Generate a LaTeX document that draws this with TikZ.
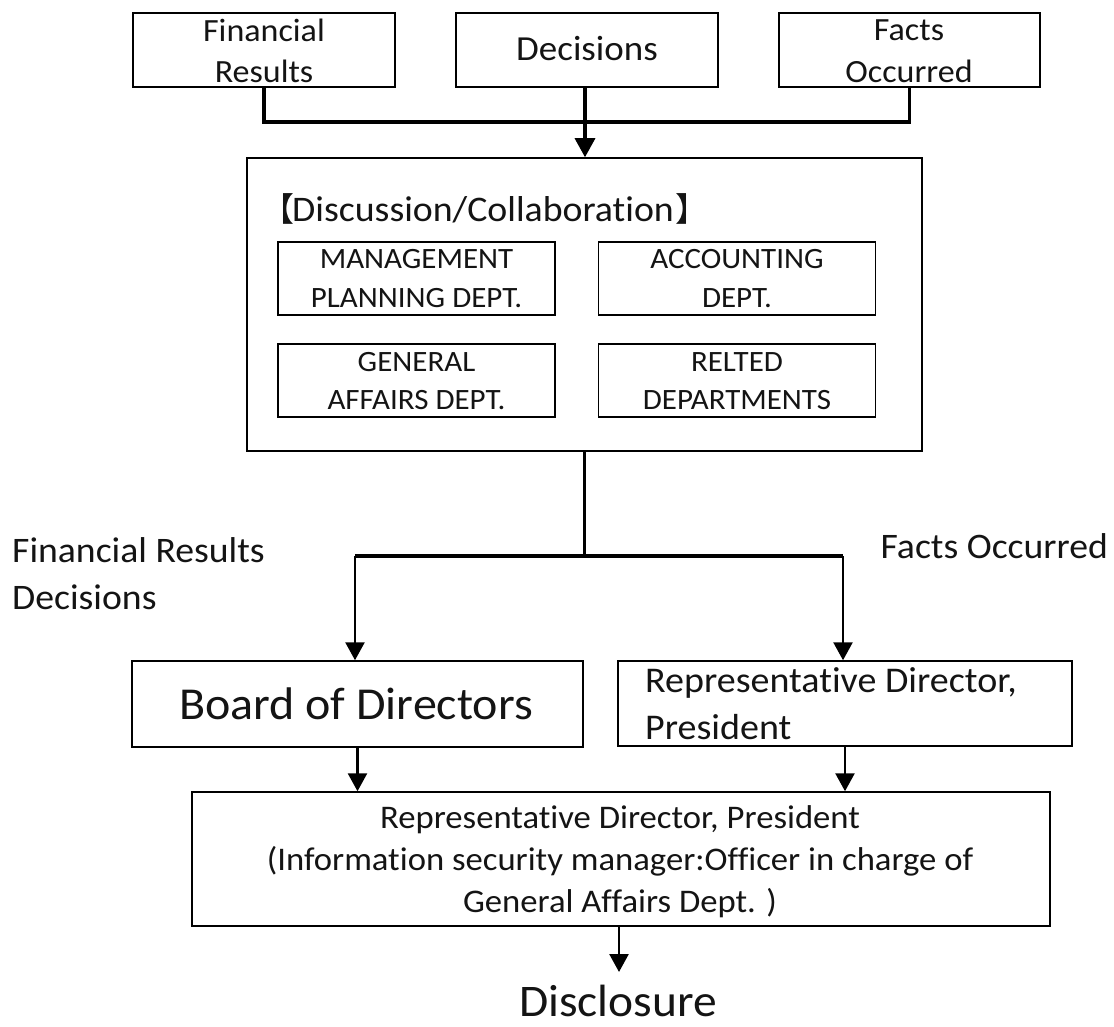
\documentclass[tikz,border=0pt]{standalone}
\usepackage{fontspec}
\setmainfont{Carlito}[FakeStretch=1.05, Ligatures=NoCommon]
\newfontfamily\cjk{Noto Sans CJK SC}
\usetikzlibrary{arrows.meta}
\begin{document}
\begin{tikzpicture}[x=1pt,y=-1pt,
  box/.style={draw=black, line width=1.5pt, inner sep=0pt},
  t/.style={anchor=base, inner sep=0pt, text=black!92, font=\fontsize{#1}{#1}\selectfont},
  tw/.style={t=#1, anchor=base west},
  te/.style={t=#1, anchor=base east},
  feed/.style={line width=3.5pt},
  stem/.style={line width=2.2pt},
  bar/.style={line width=3.4pt},
  arr/.style={line width=2.6pt, -{Triangle[width=19pt,length=18pt]}},
  arrthick/.style={line width=3.2pt, -{Triangle[width=20pt,length=19pt]}}]
\useasboundingbox (0,0) rectangle (1114,1027);
\fill[white] (0,0) rectangle (1114,1027);

% top boxes
\node[box, minimum width=262pt, minimum height=74pt] (fin) at (264,50) {};
\node[box, minimum width=262pt, minimum height=74pt] (dec) at (587,50) {};
\node[box, minimum width=261pt, minimum height=74pt] (fac) at (909.5,50) {};
\node[t=32.4] (finA) at (264,42) {Financial};
\node[t=32.4] (finB) at (264,83) {Results};
\node[t=35.2] (decA) at (587,61) {Decisions};
\node[t=32.4] (facA) at (909,41) {Facts};
\node[t=32.4] (facB) at (909,83) {Occurred};

% main box
\node[box, minimum width=675pt, minimum height=293pt] (main) at (584.5,304.5) {};
\node[tw=36] (title) at (261,222) {{\cjk\fontsize{33}{33}\selectfont 【}\kern-2pt Discussion/Collaboration\kern1pt{\cjk\fontsize{33}{33}\selectfont 】}};
\node[box, minimum width=277pt, minimum height=73pt] (mgmt) at (416.5,278.5) {};
\node[box, minimum width=277pt, minimum height=73pt] (acc) at (737,278.5) {};
\node[box, minimum width=277pt, minimum height=73pt] (gen) at (416.5,380.5) {};
\node[box, minimum width=277pt, minimum height=73pt] (rel) at (737,380.5) {};
\node[t=29.5] (mgmtA) at (416.5,269) {MANAGEMENT};
\node[t=29.5] (mgmtB) at (416.5,307) {PLANNING DEPT.};
\node[t=29.5] (accA) at (737,269) {ACCOUNTING};
\node[t=29.5] (accB) at (737,307) {DEPT.};
\node[t=29.5] (genA) at (416.5,371) {GENERAL};
\node[t=29.5] (genB) at (416.5,409) {AFFAIRS DEPT.};
\node[t=29.5] (relA) at (737,371) {RELTED};
\node[t=29.5] (relB) at (737,409) {DEPARTMENTS};

% feed connectors
\coordinate (merge) at (585,122);
\draw[feed] (fin.south) |- (fac.south |- merge) -- (fac.south);
\draw[arrthick] (merge |- dec.south) -- (merge |- main.north);

% side labels
\node[tw=35.9] (lblA) at (12,562) {Financial Results};
\node[tw=35.9] (lblB) at (12,609) {Decisions};
\node[te=35.9] (lblC) at (1108,558) {Facts Occurred};

% second level
\node[box, minimum width=451pt, minimum height=86pt] (board) at (357.5,704) {};
\node[box, minimum width=454pt, minimum height=85pt] (rep) at (845,703.5) {};
\node[t=45.7] (boardT) at (356,719) {Board of Directors};
\node[tw=36.2] (repA) at (645,692) {Representative Director,};
\node[tw=36.2] (repB) at (645,739) {President};

\coordinate (split) at (584.5,556);
\coordinate (bl) at (355,556);
\coordinate (br) at (843,556);
\draw[stem] (main.south) -- (split);
\draw[bar] (bl) -- (br);
\draw[arr] (bl) -- (bl |- board.north);
\draw[arr] (br) -- (br |- rep.north);

% bottom box
\node[box, minimum width=858pt, minimum height=134pt] (pres) at (621,859) {};
\node[t=33] (presA) at (620,828) {Representative Director, President};
\node[t=33] (presB) at (620,870) {(Information security manager:Officer in charge of};
\node[t=33] (presC) at (620,912) {General Affairs Dept. )};
\draw[arr] (board.south) -- (board.south |- pres.north);
\draw[arr] (rep.south) -- (rep.south |- pres.north);

\node[t=45.2] (disc) at (618,1016) {Disclosure};
\coordinate (discTip) at (619,972);
\draw[arr] (discTip |- pres.south) -- (discTip);
\end{tikzpicture}
\end{document}
